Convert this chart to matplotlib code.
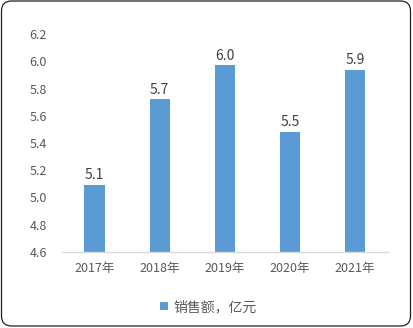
import matplotlib
matplotlib.use('Agg')
import matplotlib.pyplot as plt
from matplotlib.patches import FancyBboxPatch
from matplotlib.transforms import IdentityTransform

plt.rcParams['font.family'] = ['Noto Sans CJK SC', 'DejaVu Sans']

years = ['2017年', '2018年', '2019年', '2020年', '2021年']
sales = [5.09, 5.72, 5.97, 5.48, 5.94]
yticks = [4.6, 4.8, 5.0, 5.2, 5.4, 5.6, 5.8, 6.0, 6.2]
series_name = '销售额，亿元'

bar_color = '#5B9BD5'
text_color = '#595959'

fig = plt.figure(figsize=(4.13, 3.28), dpi=100)
ax = fig.add_axes([0.150, 0.232, 0.789, 0.664])

bars = ax.bar(range(len(years)), sales, width=0.31, color=bar_color, label=series_name, zorder=2)
for i, v in enumerate(sales):
    ax.text(i, v + 0.02, '%.1f' % v, ha='center', va='bottom', fontsize=10, color='#404040')

ax.set_xlim(-0.5, len(years) - 0.5)
ax.set_ylim(4.6, 6.2)
ax.set_yticks(yticks)
ax.set_yticklabels(['%.1f' % t for t in yticks])
ax.set_xticks(range(len(years)))
ax.set_xticklabels(years)

for side in ['left', 'right', 'top']:
    ax.spines[side].set_visible(False)
ax.spines['bottom'].set_color('#D9D9D9')
ax.spines['bottom'].set_linewidth(1.0)
ax.tick_params(axis='y', length=0, pad=11, labelsize=9, labelcolor=text_color)
ax.tick_params(axis='x', length=0, pad=7, labelsize=9, labelcolor=text_color)

fig.legend(handles=[bars], labels=[series_name], loc='center',
           bbox_to_anchor=(0.505, 1 - 307 / 328), frameon=False,
           fontsize=10, labelcolor=text_color, handlelength=0.55, handleheight=0.55,
           handletextpad=0.4)

# rounded outline around the whole chart
border = FancyBboxPatch((1.5, 2.0), 409, 325, boxstyle='round,pad=0,rounding_size=10',
                        transform=IdentityTransform(), facecolor='none',
                        edgecolor='#202020', linewidth=0.9)
fig.patches.append(border)

fig.savefig('out.png', dpi=100)
